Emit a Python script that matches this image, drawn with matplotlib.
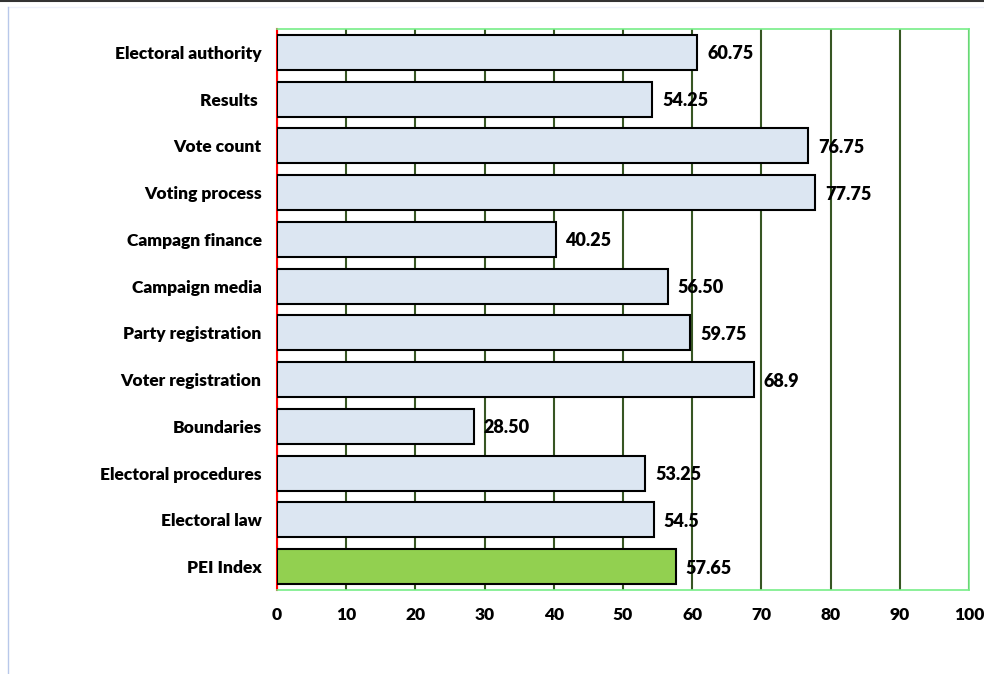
import matplotlib.pyplot as plt
from matplotlib.lines import Line2D

# data, top to bottom as shown
categories = ["Electoral authority", "Results ", "Vote count", "Voting process",
              "Campagn finance", "Campaign media", "Party registration",
              "Voter registration", "Boundaries", "Electoral procedures",
              "Electoral law", "PEI Index"]
scores = [60.75, 54.25, 76.75, 77.75, 40.25, 56.50, 59.75, 68.9, 28.50, 53.25, 54.5, 57.65]
score_labels = ["60.75", "54.25", "76.75", "77.75", "40.25", "56.50", "59.75",
                "68.9", "28.50", "53.25", "54.5", "57.65"]
x_ticks = [0, 10, 20, 30, 40, 50, 60, 70, 80, 90, 100]

plt.rcParams['font.family'] = ['Lato', 'DejaVu Sans']

fig = plt.figure(figsize=(9.84, 6.74), dpi=100)
ax = fig.add_axes([277 / 984, 1 - 590 / 674, (969 - 277) / 984, (590 - 29) / 674])

colors = ['#dce6f2'] * (len(categories) - 1) + ['#92d050']
ypos = list(range(len(categories)))
bars = ax.barh(ypos, scores, height=0.75, color=colors, edgecolor='black',
               linewidth=1.5, zorder=3)

for b, lab in zip(bars, score_labels):
    ax.annotate(lab, (b.get_width(), b.get_y() + b.get_height() / 2),
                xytext=(7, -1), textcoords='offset points',
                ha='left', va='center', fontsize=13, fontweight='heavy', zorder=4)

ax.set_xlim(0, 100)
ax.set_ylim(len(categories) - 0.5, -0.5)
ax.set_xticks(x_ticks)
ax.set_yticks(ypos)
ax.set_yticklabels(categories)
ax.tick_params(axis='both', length=0, labelsize=12.5)
ax.tick_params(axis='y', pad=11)
ax.tick_params(axis='x', pad=12)
for t in ax.get_xticklabels() + ax.get_yticklabels():
    t.set_fontweight('heavy')

ax.xaxis.grid(True, color='#375623', linewidth=1.5, zorder=0)
ax.set_axisbelow(True)

ax.spines['left'].set_color('red')
ax.spines['left'].set_linewidth(1.5)
for s in ['top', 'right', 'bottom']:
    ax.spines[s].set_color('#77ee88')
    ax.spines[s].set_linewidth(1.2)

# outer frame pieces from the screenshot
fig.add_artist(Line2D([0, 1], [1 - 0.8 / 674, 1 - 0.8 / 674], color='#333333', linewidth=1.5))
fig.add_artist(Line2D([8 / 984, 1], [1 - 7 / 674, 1 - 7 / 674], color='#eef0fa', linewidth=1))
fig.add_artist(Line2D([8 / 984, 8 / 984], [0, 1 - 7 / 674], color='#b8c8ea', linewidth=1))

fig.savefig('out.png', dpi=100)
